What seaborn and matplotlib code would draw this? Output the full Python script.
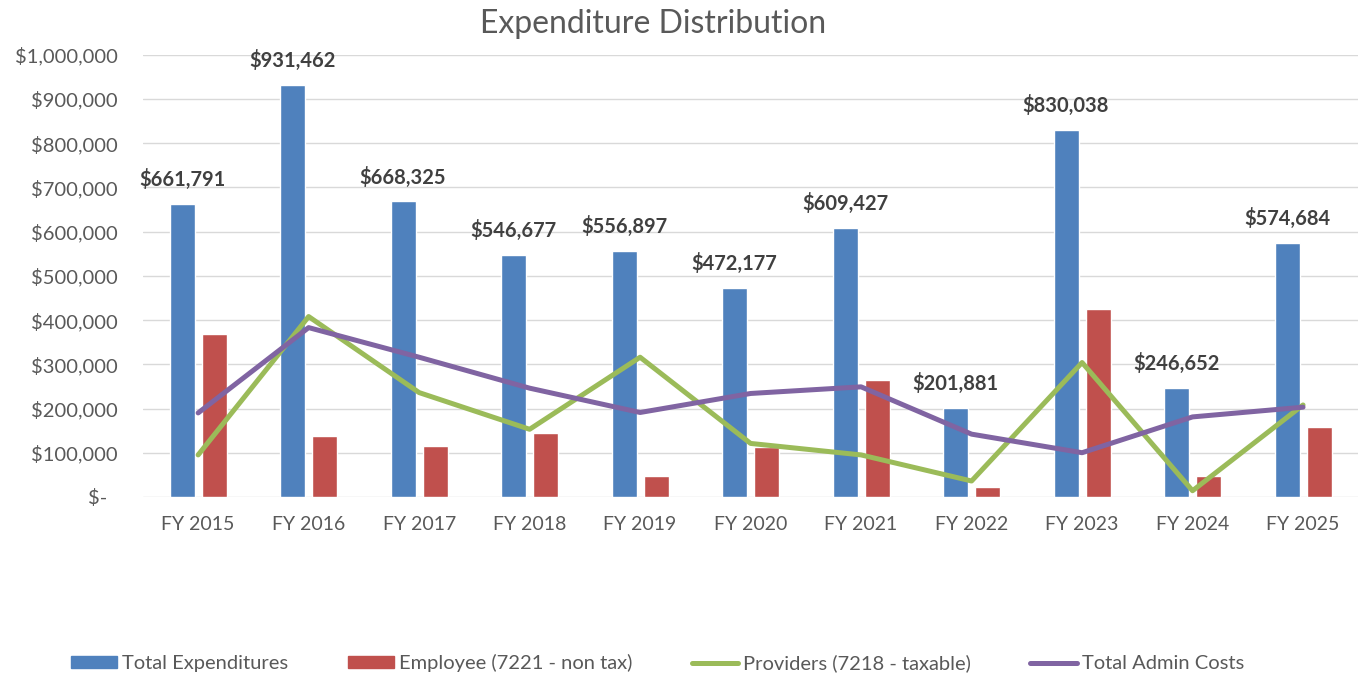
import matplotlib
matplotlib.use("Agg")
import matplotlib.pyplot as plt
import matplotlib.patches as mpatches
from matplotlib.lines import Line2D
from matplotlib.ticker import FuncFormatter
import numpy as np
import pandas as pd
import seaborn as sns

years = ["FY 2015", "FY 2016", "FY 2017", "FY 2018", "FY 2019", "FY 2020",
         "FY 2021", "FY 2022", "FY 2023", "FY 2024", "FY 2025"]
total_exp = [661791, 931462, 668325, 546677, 556897, 472177,
             609427, 201881, 830038, 246652, 574684]
employee = [369000, 138000, 115000, 145000, 47000, 113000,
            265000, 23000, 426000, 47000, 159000]
providers = [95000, 408000, 236000, 153000, 316000, 121000,
             95000, 36000, 304000, 14000, 208000]
admin = [190000, 383000, 316000, 246000, 191000, 234000,
         249000, 142000, 100000, 181000, 203000]

series_names = ["Total Expenditures", "Employee (7221 - non tax)",
                "Providers (7218 - taxable)", "Total Admin Costs"]
colors = ["#4F81BD", "#C0504D", "#9BBB59", "#8064A2"]

sns.set_theme(style="white")
plt.rcParams["font.family"] = ["Lato", "DejaVu Sans"]
text_grey = "#595959"

df = pd.DataFrame({
    "year": years * 2,
    "value": total_exp + employee,
    "series": [series_names[0]] * len(years) + [series_names[1]] * len(years),
})

fig = plt.figure(figsize=(13.61, 6.77), dpi=100)
ax = fig.add_axes([0.105, 0.266, 0.893, 0.653])

sns.barplot(data=df, x="year", y="value", hue="series", order=years,
            hue_order=series_names[:2], palette=colors[:2], width=0.58,
            gap=0.22, saturation=1, legend=False, ax=ax)

pos = np.arange(len(years))
sns.lineplot(x=pos, y=providers, color=colors[2], linewidth=3.6, ax=ax)
sns.lineplot(x=pos, y=admin, color=colors[3], linewidth=3.6, ax=ax)

# data labels above the total expenditure bars
for i, v in enumerate(total_exp):
    ax.annotate(f"${v:,.0f}", (i - 0.145, v), xytext=(0, 10),
                textcoords="offset points", ha="center", va="bottom",
                fontsize=14.5, fontweight="bold", color="#404040")

ax.set_ylim(0, 1000000)
ax.set_xlim(-0.5, len(years) - 0.5)
ax.set_yticks(np.arange(0, 1000001, 100000))
ax.yaxis.set_major_formatter(FuncFormatter(
    lambda v, _: "$-  " if v == 0 else f"${v:,.0f}"))
ax.grid(axis="y", color="#D9D9D9", linewidth=1)
ax.set_axisbelow(True)
for s in ax.spines.values():
    s.set_visible(False)
ax.tick_params(axis="y", length=0, labelsize=14.5, colors=text_grey, pad=18)
ax.tick_params(axis="x", length=0, labelsize=14, colors=text_grey, pad=14)
ax.set_xlabel("")
ax.set_ylabel("")

fig.text(0.48, 0.965, "Expenditure Distribution", ha="center", va="center",
         fontsize=23, color=text_grey)

handles = [
    mpatches.Patch(color=colors[0], label=series_names[0]),
    mpatches.Patch(color=colors[1], label=series_names[1]),
    Line2D([0], [0], color=colors[2], linewidth=3.6, label=series_names[2]),
    Line2D([0], [0], color=colors[3], linewidth=3.6, label=series_names[3]),
]
fig.legend(handles=handles, loc="center", bbox_to_anchor=(0.483, 0.02),
           ncol=4, frameon=False, fontsize=14.5, handlelength=2.3,
           handleheight=0.55, handletextpad=0.25, columnspacing=2.95,
           labelcolor=text_grey)

fig.savefig("out.png", dpi=100)
